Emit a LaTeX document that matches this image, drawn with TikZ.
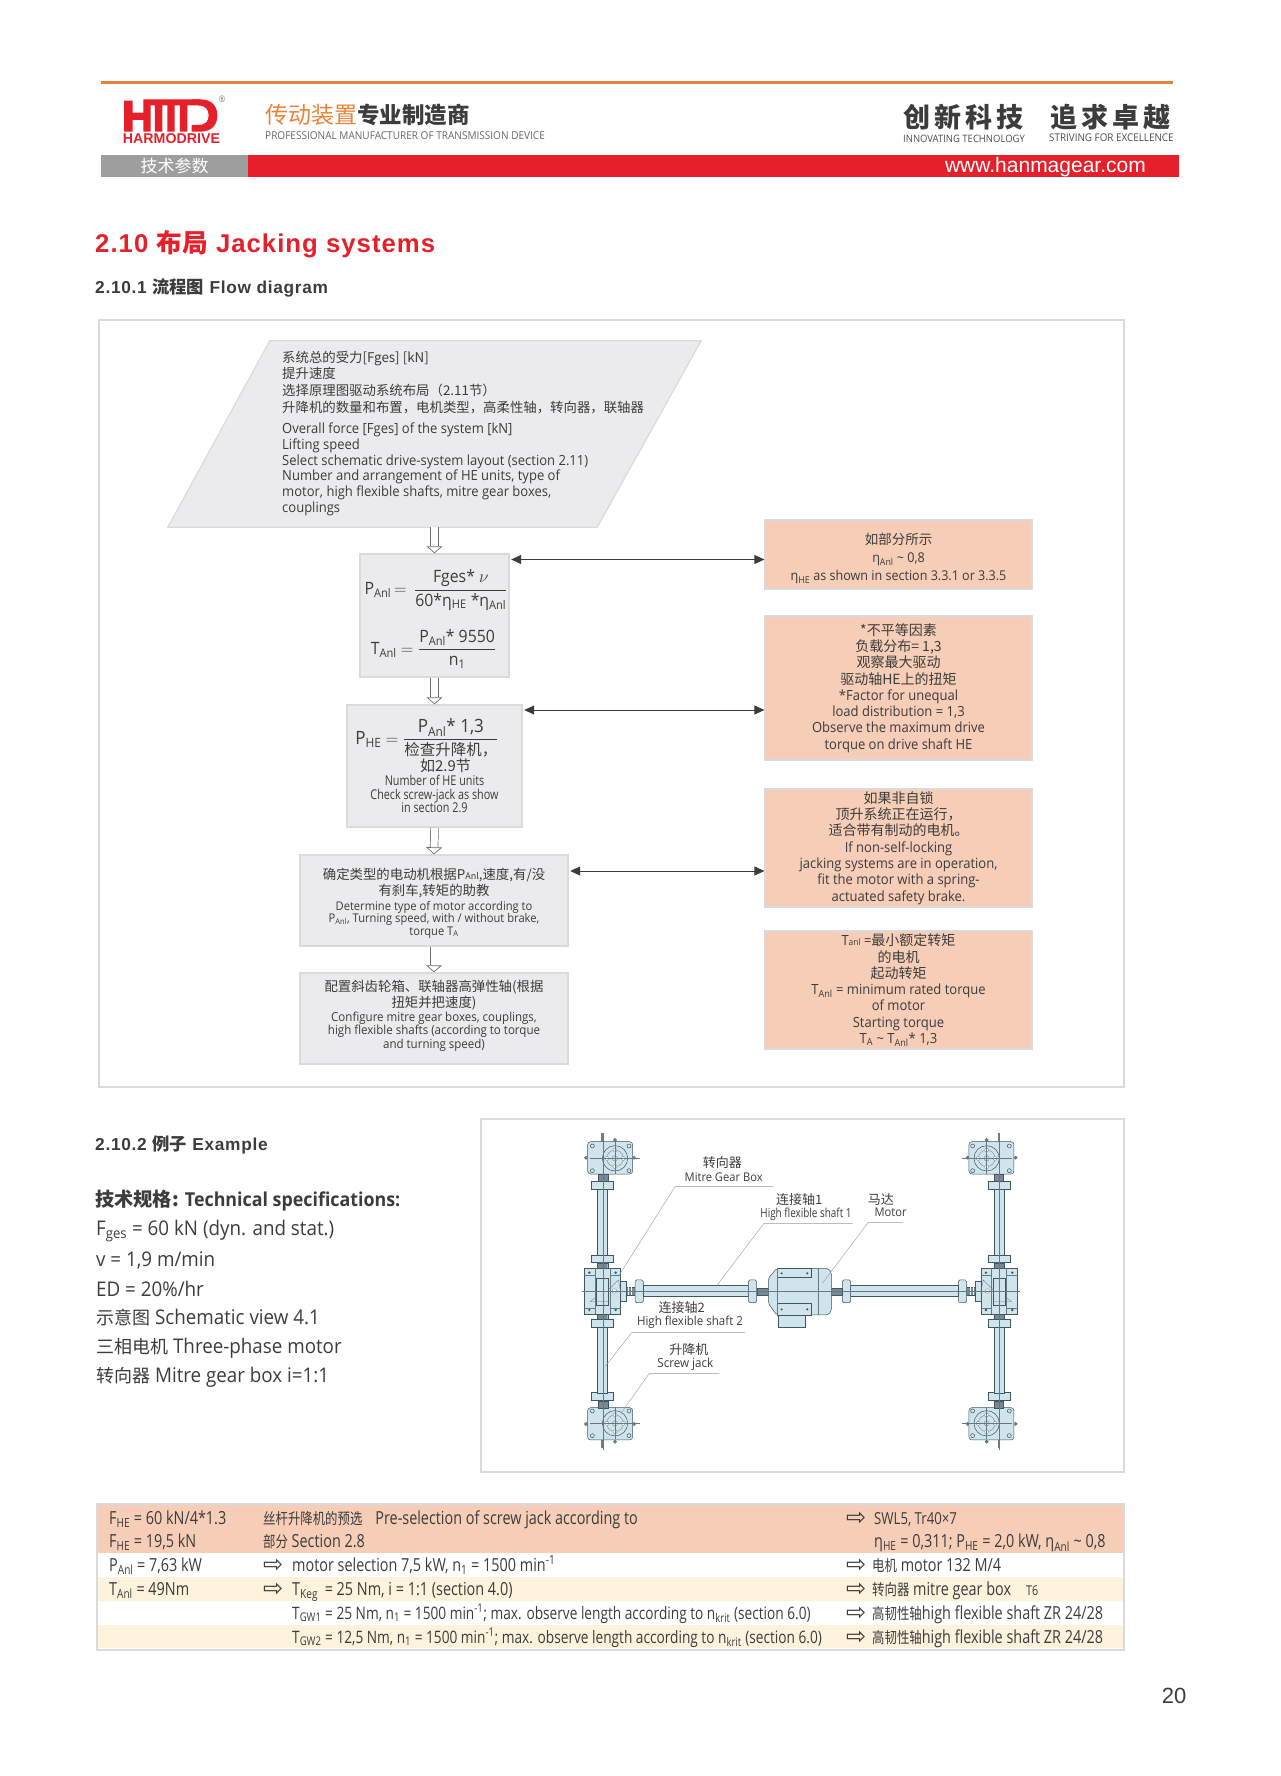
\documentclass[tikz,border=0pt]{standalone}
\usepackage{amsmath, amssymb}
\usepackage{fontspec}
\setmainfont[FakeStretch=0.93]{Open Sans}
\newfontfamily\cjk{Noto Sans CJK SC}
\newfontfamily\headfont[LetterSpace=4]{Liberation Sans}
\newfontfamily\plainfont{Liberation Sans}
\newfontfamily\narrowfont[FakeStretch=0.8]{Open Sans}
\newfontfamily\cjknarrow[FakeStretch=0.8]{Noto Sans CJK SC}
\newfontfamily\glyphfont{DejaVu Sans}
\usetikzlibrary{arrows.meta, positioning, calc, shapes.geometric}
\newcommand{\sz}[2]{\fontsize{#1}{#2}\selectfont}
\newcommand{\cn}[1]{{\cjk #1}}
\newcommand{\cnb}[1]{{\cjk\sz{13.4}{15}#1}}
\newcommand{\cns}[1]{{\cjk\sz{18}{20}#1}}
\newcommand{\cnr}[1]{{\cjknarrow\sz{15.5}{18}#1}}
\newcommand{\low}[1]{\textsubscript{#1}}
\newcommand{\pushto}[1]{\makebox[#1][l]{\raisebox{-1.5pt}{\glyphfont\sz{24}{18}⇨}}}
\definecolor{ink}{HTML}{3C3C3C}
\definecolor{hanred}{HTML}{E5202A}
\definecolor{hanorange}{HTML}{E8833A}
\definecolor{boxgrey}{HTML}{EBEBED}
\definecolor{boxedge}{HTML}{DADADA}
\definecolor{peach}{HTML}{F6CDB6}
\definecolor{cream}{HTML}{FDF3DC}
\definecolor{ice}{HTML}{CFE4EB}
\definecolor{steel}{HTML}{3E5763}

\begin{document}
\begin{tikzpicture}[
  x=1pt, y=-1pt,
  every node/.style={font=\sz{14}{16.3}, text=ink, inner sep=0pt},
  frame/.style={draw=boxedge, line width=1.6pt},
  box/.style={draw=boxedge, line width=1.4pt, fill=boxgrey, align=center},
  note/.style={draw=boxedge, line width=1.2pt, fill=peach, minimum width=267pt, align=center},
  arr/.style={{Triangle[length=10pt,width=9pt]}-{Triangle[length=10pt,width=9pt]}, line width=.9pt, draw=ink},
  hollow/.style={draw=ink!75, double=white, double distance=7pt, line width=.7pt,
    -{Triangle[length=7pt,width=16pt,line width=.7pt,fill=white]}},
  spec/.style={anchor=west, font=\sz{20.2}{22}},
  row/.style={anchor=base west, font=\narrowfont\sz{18}{18}},
  part/.style={draw=steel, fill=ice, line width=.5pt},
  dark/.style={draw=steel, fill=steel!70, line width=.3pt},
  axis/.style={draw=steel!80, line width=.3pt},
  leader/.style={draw=black!40, line width=.4pt}
]
  \useasboundingbox (0,0) rectangle (1280,1776);

  % header
  \draw[hanorange, line width=3pt] (101,83) -- (1173,83);
  \begin{scope}[shift={(110,90)}, x=.3333pt, y=-.3333pt]
    \fill[hanred] (42,32) rectangle (68,125) (68,68) rectangle (100,90) (100,28) rectangle (122,125)
      (122,28) rectangle (270,46) (135,46) rectangle (157,125) (172,46) rectangle (194,125) (210,46) rectangle (232,125);
    \fill[hanred] (245,28) -- (270,28) .. controls (305,28) and (322,48) .. (322,76) .. controls (322,105) and (305,125) .. (270,125)
      -- (245,125) -- (245,105) -- (265,105) .. controls (285,105) and (296,95) .. (296,76) .. controls (296,58) and (285,46) .. (265,46) -- cycle;
  \end{scope}
  \node[font=\plainfont\bfseries\sz{14.2}{15}, text=hanred] (brand) at (171.5,139) {HARMODRIVE};
  \node[font=\sz{9}{9}, text=black!50] (mark) at (222,99) {®};
  \node[font=\cjk\sz{23}{25}, text=hanorange, anchor=west] (tagA) at (265,115) {传动装置};
  \node[font=\cjk\bfseries\sz{22.5}{25}, text=ink, anchor=west] (tagB) at (357,115) {专业制造商};
  \node[font=\sz{10.8}{12}, text=black!60, anchor=west] (tagC) at (265,136) {PROFESSIONAL MANUFACTURER OF TRANSMISSION DEVICE};
  \node[font=\cjk\bfseries\sz{27}{28}, text=ink, anchor=west] (sloganA) at (903,117) {创\hspace{4pt}新\hspace{4pt}科\hspace{4pt}技};
  \node[font=\cjk\bfseries\sz{27}{28}, text=ink, anchor=west] (sloganB) at (1050,117) {追\hspace{4pt}求\hspace{4pt}卓\hspace{4pt}越};
  \node[font=\sz{10.2}{11}, text=black!70, anchor=west] (sloganC) at (903,139) {INNOVATING TECHNOLOGY};
  \node[font=\sz{10.6}{11}, text=black!70, anchor=west] (sloganD) at (1049,138) {STRIVING FOR EXCELLENCE};
  \node[fill=black!38, minimum width=147pt, minimum height=22pt, font=\cjk\sz{17}{18}, text=white] (tabA) at (174.5,166) {技术参数};
  \node[fill=hanred, minimum width=931pt, minimum height=22pt] (tabB) at (713.5,166) {};
  \node[font=\plainfont\sz{21}{22}, text=white, anchor=east] (site) at (1146,167) {www.hanmagear.com};

  \node[font=\headfont\bfseries\sz{25.7}{28}, text=hanred, anchor=west] (title) at (95,244.5) {2.10 \cn{布局} Jacking systems};
  \node[font=\headfont\bfseries\sz{17.3}{20}, anchor=west] (subA) at (95,287.5) {2.10.1 \cn{流程图} Flow diagram};

  % flow diagram
  \node[frame, minimum width=1025pt, minimum height=767pt] (flow) at (611.5,703.5) {};
  \node[minimum width=533pt, minimum height=186pt] (input) at (434.5,434) {};
  \draw[draw=boxedge, line width=1.2pt, fill=boxgrey] ($(input.north west)+(102,0)$) -- (input.north east)
    -- ($(input.south east)+(-104,0)$) -- (input.south west) -- cycle;
  \node[anchor=north west, align=left, font=\sz{14}{15.7}] (inputTxt) at (282,350.5) {%
    \cnb{系统总的受力[Fges] [kN]}\\[1pt]\cnb{提升速度}\\[1pt]\cnb{选择原理图驱动系统布局（2.11节）}\\[1pt]\cnb{升降机的数量和布置，电机类型，高柔性轴，转向器，联轴器}\\[6pt]
    Overall force [Fges] of the system [kN]\\Lifting speed\\Select schematic drive-system layout (section 2.11)\\
    Number and arrangement of HE units, type of\\motor, high flexible shafts, mitre gear boxes,\\couplings};

  \node[box, minimum width=149pt, minimum height=123pt] (power) at (434.5,615.5) {};
  \node[font=\sz{17}{20}] (powerA) at (436,590) {P\low{Anl}$\,=\,\dfrac{\text{Fges* }\nu}{\text{60*η\low{HE} *η\low{Anl}}}$};
  \node[font=\sz{17}{20}] (powerB) at (433.5,649) {T\low{Anl} $=\dfrac{\text{P\low{Anl}* 9550}}{\text{n\low{1}}}$};
  \node[box, minimum width=175pt, minimum height=122pt] (units) at (434.5,766) {};
  \node[font=\sz{18.3}{20}] (unitsEq) at (427,738) {P\low{HE} $=\dfrac{\text{P\low{Anl}* 1,3}}{\text{\cjk\sz{15.5}{17}检查升降机，}}$};
  \node[align=center, font=\narrowfont\sz{13.5}{13.6}] (unitsTxt) at (434.5,786) {{\cjk\sz{15}{15}\hspace{22pt}如2.9节}\\Number of HE units\\Check screw-jack as show\\in section 2.9};
  \node[box, minimum width=268pt, minimum height=91pt, font=\sz{12}{12.5}] (motor) at (434,900.5) {%
    \rule{0pt}{16pt}\cnb{确定类型的电动机根据P{\sz{9}{9}Anl},速度,有/没}\\[1pt]\cnb{有刹车,转矩的助教}\\[2.5pt]Determine type of motor according to\\P\low{Anl}, Turning speed, with / without brake,\\torque T\low{A}};
  \node[box, minimum width=268pt, minimum height=91pt] (config) at (434,1018.5) {};
  \node[align=center, font=\sz{12.4}{10.6}] (configTxt) at (434,1015.5) {%
    \cnb{配置斜齿轮箱、联轴器高弹性轴(根据}\\[1pt]\cnb{扭矩并把速度)}\\[1pt]Configure mitre gear boxes, couplings,\\high flexible shafts (according to torque\\and turning speed)};

  \node[note, minimum height=69pt, font=\sz{13.5}{18}] (eff) at (898.5,554.5) {\rule{0pt}{20pt}\cn{如部分所示}\\η\low{Anl} \textasciitilde{} 0,8\\η\low{HE} as shown in section 3.3.1 or 3.3.5};
  \node[note, minimum height=144pt] (factor) at (898.5,688) {\cn{*不平等因素}\\\cn{负载分布= 1,3}\\\cn{观察最大驱动}\\\cn{驱动轴HE上的扭矩}\\*Factor for unequal\\load distribution = 1,3\\Observe the maximum drive\\torque on drive shaft HE};
  \node[note, minimum height=118pt] (brake) at (898.5,848) {\cn{如果非自锁}\\\cn{顶升系统正在运行，}\\\cn{适合带有制动的电机。}\\If non-self-locking\\jacking systems are in operation,\\fit the motor with a spring-\\actuated safety brake.};
  \node[note, minimum height=118pt] (torque) at (898.5,990) {T{\sz{9}{9}anl} =\cn{最小额定转矩}\\\cn{的电机}\\\cn{起动转矩}\\T\low{Anl} = minimum rated torque\\of motor\\Starting torque\\T\low{A} \textasciitilde{} T\low{Anl}* 1,3};

  \draw[hollow] (input.south) -- (power.north);
  \draw[hollow] (power.south) -- (units.north);
  \draw[hollow] (units.south) -- (motor.north);
  \draw[hollow] (motor.south) -- (config.north);
  \coordinate (rowA) at (0,559.5);
  \coordinate (rowB) at (0,710);
  \coordinate (rowC) at (0,871);
  \draw[arr, shorten <=1.5pt] (power.east |- rowA) -- (eff.west |- rowA);
  \draw[arr, shorten <=1.5pt] (units.east |- rowB) -- (factor.west |- rowB);
  \draw[arr, shorten <=1.5pt] (motor.east |- rowC) -- (brake.west |- rowC);

  % example
  \node[font=\headfont\bfseries\sz{17.3}{20}, anchor=west] (subB) at (95,1144.5) {2.10.2 \cn{例子} Example};
  \node[spec, font=\bfseries\sz{19.2}{22}] (specA) at (95,1200.5) {\cn{技术规格:} Technical specifications:};
  \node[spec] (specB) at (96,1231) {F\low{ges} = 60 kN (dyn. and stat.)};
  \node[spec] (specC) at (96,1260) {v = 1,9 m/min};
  \node[spec] (specD) at (96,1289) {ED = 20\%/hr};
  \node[spec] (specE) at (96,1318) {\cns{示意图} Schematic view 4.1};
  \node[spec] (specF) at (96,1348) {\cns{三相电机} Three-phase motor};
  \node[spec] (specG) at (96,1377) {\cns{转向器} Mitre gear box i=1:1};
  \node[frame, minimum width=643pt, minimum height=353pt] (sample) at (802.5,1295.5) {};

  \begin{scope}[shift={(560,1120)}, x=.3333pt, y=-.3333pt]
    \foreach \m/\c/\e in {1/0/565, -1/1445/573} {
      \begin{scope}[xshift=\c*.3333pt, xscale=\m]
        \foreach \jy/\d in {115/1, 910/-1} {
          \begin{scope}[yshift=-\jy*.3333pt, yscale=\d]
            \fill[steel!75] (124,-75) rectangle (132,-50);
            \fill[dark] (78,-2) circle (5) (222,-2) circle (5) (165,-55) circle (5);
            \draw[part, rounded corners=3pt] (83,-50) rectangle (218,47);
            \fill[dark] (114,47) rectangle (143,68);
            \draw[part] (95,68) rectangle (160,92);
            \draw[part] (165,0) circle (38);
            \draw[axis] (165,0) circle (25) (165,0) circle (8);
            \foreach \a in {0,90,180,270} \draw[axis, fill=white] (165,0) ++(\a:25) circle (6);
            \foreach \px/\py in {97/-37, 207/-37, 97/37, 207/37} \draw[steel, fill=ice, line width=.5pt] (\px,\py) circle (6);
            \draw[axis] (90,0) -- (240,0) (165,-48) -- (165,48);
          \end{scope}
        }
        \draw[part] (112,207) rectangle (143,405) (112,622) rectangle (143,820);
        \draw[part] (95,405) rectangle (160,428) (95,597) rectangle (160,622);
        \fill[dark] (112,428) rectangle (143,445) (112,583) rectangle (143,597);
        \draw[part] (182,483) rectangle (198,543);
        \draw[part] (72,445) rectangle (182,583);
        \draw[axis] (105,445) -- (105,583) (150,445) -- (150,583) (72,465) -- (105,465) (150,465) -- (182,465) (72,563) -- (105,563) (150,563) -- (182,563);
        \foreach \px/\py in {88/458, 167/458, 88/570, 167/570} \fill[steel] (\px,\py) circle (4);
        \draw[part] (110,475) rectangle (145,555);
        \draw[axis] (145,510) -- (175,480) -- (182,513) (90,545) -- (110,530) (90,545) -- (145,545);
        \draw[axis, fill=white] (163,513) circle (7);
        \fill[dark] (198,500) rectangle (226,526);
        \draw[axis, white] (205,500) -- (205,526) (213,500) -- (213,526);
        \draw[part, rounded corners=1.5pt] (225,480) rectangle (250,548);
        \draw[part] (250,497) rectangle (\e,530);
        \draw[part, rounded corners=1.5pt] (\e,480) rectangle ({\e+25},548);
        \fill[dark] ({\e+25},503) rectangle ({\e+60},525);
        \draw[axis] (128,40) -- (128,990);
      \end{scope}
    }
    \draw[part] (655,587) rectangle (737,622);
    \draw[part, rounded corners=2pt] (625,475) -- (650,445) -- (805,445) -- (815,460) -- (815,570) -- (805,585) -- (650,585) -- (625,550) -- cycle;
    \draw[part] (652,445) rectangle (755,472) (652,550) rectangle (755,585);
    \draw[axis] (775,445) -- (775,585) (652,445) -- (652,585);
    \foreach \px/\py in {665/460, 742/460, 665/568, 742/568} \fill[steel] (\px,\py) circle (3.5);
    \draw[axis] (65,513) -- (1380,513);

    \node[font=\cjk\sz{13}{14}] (mitreCn) at (487,127) {转向器};
    \node[font=\sz{12}{12}] (mitreEn) at (491,172) {Mitre Gear Box};
    \node[font=\cjk\sz{13}{14}] (shaftAcn) at (718,240) {连接轴1};
    \node[font=\narrowfont\sz{12.4}{12}] (shaftAen) at (738,282) {High flexible shaft 1};
    \node[font=\cjk\sz{13}{14}] (motorCn) at (963,240) {马达};
    \node[font=\sz{12}{12}] (motorEn) at (992,278) {Motor};
    \node[font=\cjk\sz{13}{14}] (shaftBcn) at (365,562) {连接轴2};
    \node[font=\sz{12.4}{12}] (shaftBen) at (390,607) {High flexible shaft 2};
    \node[font=\cjk\sz{13}{14}] (jackCn) at (387,690) {升降机};
    \node[font=\sz{12.5}{12}] (jackEn) at (376,733) {Screw jack};

    \coordinate (mitreEnd) at (178,465);
    \coordinate (shaftAend) at (468,500);
    \coordinate (motorEnd) at (787,490);
    \coordinate (shaftBend) at (135,740);
    \coordinate (jackEnd) at (183,880);
    \draw[leader] (640,200) -- (345,200) -- (mitreEnd);
    \draw[leader] (878,310) -- (612,310) -- (shaftAend);
    \draw[leader] (1028,307) -- (925,307) -- (motorEnd);
    \draw[leader] (555,638) -- (215,638) -- (shaftBend);
    \draw[leader] (478,760) -- (268,760) -- (jackEnd);
  \end{scope}

  % table
  \fill[peach] (97,1505) rectangle (1124,1553);
  \fill[cream] (97,1577) rectangle (1124,1601) (97,1625) rectangle (1124,1648);
  \node[frame, line width=1.2pt, minimum width=1027pt, minimum height=146pt] (result) at (610.5,1577) {};

  \node[row] (a1) at (109,1524) {F\low{HE} = 60 kN/4*1.3};
  \node[row] (a2) at (109,1547.5) {F\low{HE} = 19,5 kN};
  \node[row] (a3) at (109,1571) {P\low{Anl} = 7,63 kW};
  \node[row] (a4) at (109,1595) {T\low{Anl} = 49Nm};
  \node[row] (b1) at (263,1524) {\cnr{丝杆升降机的预选}\hspace{13pt}Pre-selection of screw jack according to};
  \node[row] (b2) at (263,1547.5) {\cnr{部分} Section 2.8};
  \node[row] (b3) at (263,1571) {\pushto{29pt}motor selection 7,5 kW, n\low{1} = 1500 min\textsuperscript{-1}};
  \node[row] (b4) at (263,1595) {\pushto{29pt}T\low{Keg}\hspace{3pt} = 25 Nm, i = 1:1 (section 4.0)};
  \node[row, font=\narrowfont\sz{17.1}{18}] (b5) at (292,1619) {T\low{GW1} = 25 Nm, n\low{1} = 1500 min\textsuperscript{-1}; max. observe length according to n\low{krit} (section 6.0)};
  \node[row, font=\narrowfont\sz{17.1}{18}] (b6) at (292,1643) {T\low{GW2} = 12,5 Nm, n\low{1} = 1500 min\textsuperscript{-1}; max. observe length according to n\low{krit} (section 6.0)};
  \node[row] (c1) at (846,1524) {\pushto{28pt}{\sz{16.5}{18}SWL5, Tr40×7}};
  \node[row] (c2) at (874,1547.5) {η\low{HE} = 0,311; P\low{HE} = 2,0 kW, η\low{Anl} \textasciitilde{} 0,8};
  \node[row] (c3) at (846,1571) {\pushto{26pt}\cnr{电机} motor 132 M/4};
  \node[row] (c4) at (846,1595) {\pushto{26pt}\cnr{转向器} mitre gear box\hspace{15pt}{\sz{13.5}{14}T6}};
  \node[row] (c5) at (846,1619) {\pushto{26pt}\cnr{高韧性轴}high flexible shaft ZR 24/28};
  \node[row] (c6) at (846,1643) {\pushto{26pt}\cnr{高韧性轴}high flexible shaft ZR 24/28};

  \node[font=\plainfont\sz{22}{22}] (page) at (1174,1696) {20};
\end{tikzpicture}
\end{document}
